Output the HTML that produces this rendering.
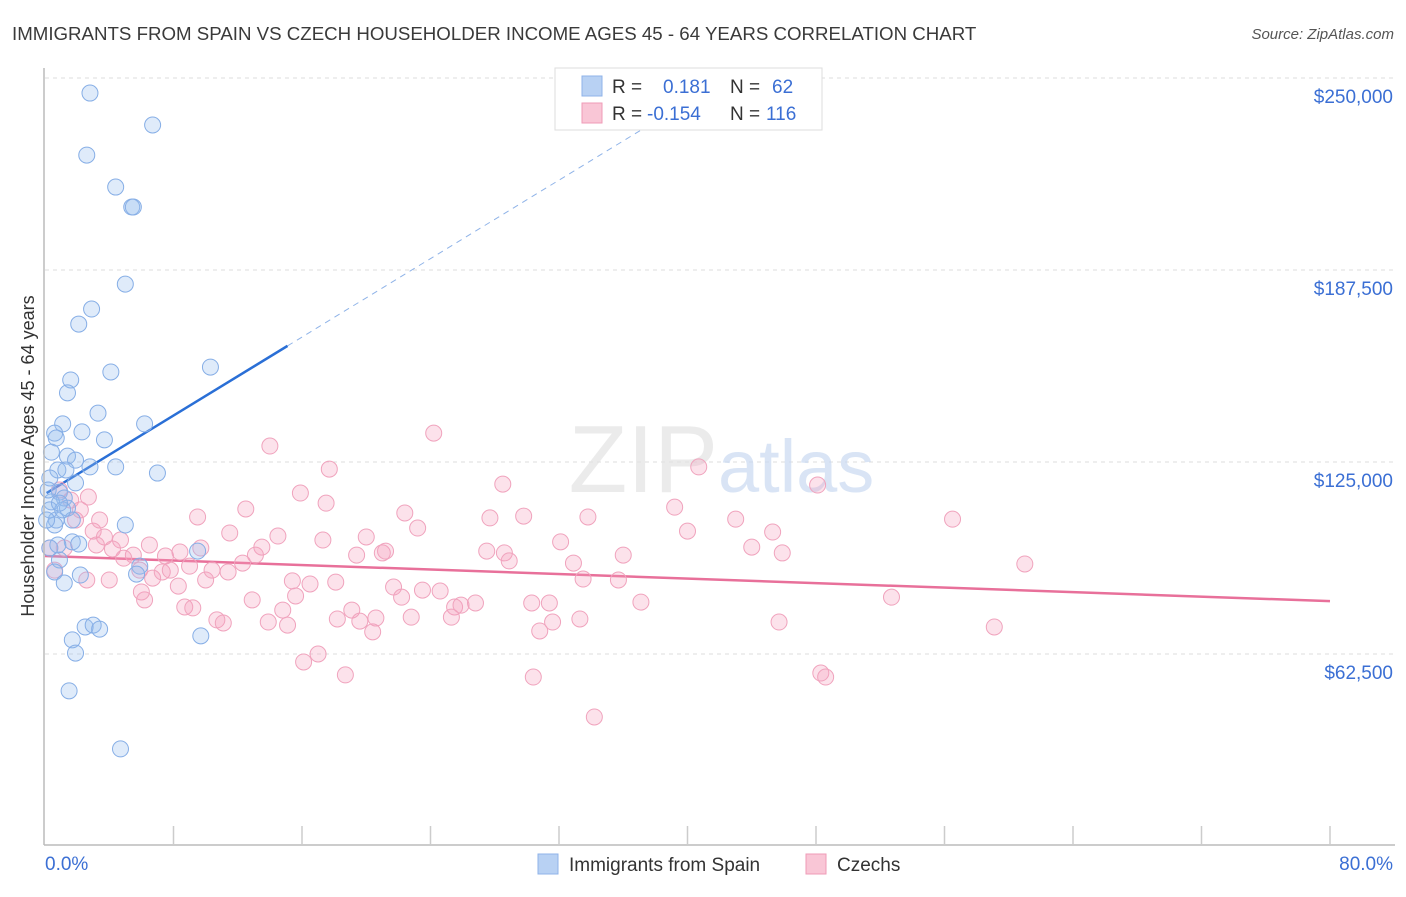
<!DOCTYPE html>
<html><head><meta charset="utf-8"><style>
body{margin:0;background:#fff;font-family:"Liberation Sans",sans-serif;}
svg text{font-family:"Liberation Sans",sans-serif;}
</style></head><body>
<svg id="chart" width="1406" height="892" viewBox="0 0 1406 892" xmlns="http://www.w3.org/2000/svg">
<text x="12" y="40" font-size="18.7" fill="#3a3a3a">IMMIGRANTS FROM SPAIN VS CZECH HOUSEHOLDER INCOME AGES 45 - 64 YEARS CORRELATION CHART</text>
<text x="1394" y="39" font-size="15" fill="#555" font-style="italic" text-anchor="end">Source: ZipAtlas.com</text>
<g id="grid"></g>
<text x="718" y="492" font-size="96" fill="#e3e3e3" text-anchor="end" font-family="Liberation Serif" opacity="0.7">ZIP</text>
<text x="718" y="492" font-size="74" fill="#c9daf2" opacity="0.7">atlas</text>
<text transform="translate(34,456) rotate(-90)" font-size="18" fill="#333" text-anchor="middle">Householder Income Ages 45 - 64 years</text>
<defs><clipPath id="plotclip"><rect x="44" y="68" width="1352" height="778"/></clipPath></defs>
<g id="trends" clip-path="url(#plotclip)"></g>
<g id="points"></g>
<g id="axes"></g>
<g>
<rect x="555" y="68" width="267" height="62" fill="#fff" stroke="#ddd"/>
<rect x="582" y="76" width="20" height="20" fill="#b8d1f3" stroke="#8fb3e8"/>
<rect x="582" y="103" width="20" height="20" fill="#f9c6d6" stroke="#ef9bb7"/>
<text x="612" y="93" font-size="19" fill="#333">R =</text>
<text x="663" y="93" font-size="19" fill="#3b6fd4">0.181</text>
<text x="730" y="93" font-size="19" fill="#333">N =</text>
<text x="772" y="93" font-size="19" fill="#3b6fd4">62</text>
<text x="612" y="120" font-size="19" fill="#333">R =</text>
<text x="647" y="120" font-size="19" fill="#3b6fd4">-0.154</text>
<text x="730" y="120" font-size="19" fill="#333">N =</text>
<text x="766" y="120" font-size="19" fill="#3b6fd4">116</text>
</g>
<g>
<rect x="538" y="854" width="20" height="20" fill="#b8d1f3" stroke="#8fb3e8"/>
<text x="569" y="871" font-size="19" fill="#333">Immigrants from Spain</text>
<rect x="806" y="854" width="20" height="20" fill="#f9c6d6" stroke="#ef9bb7"/>
<text x="837" y="871" font-size="19" fill="#333">Czechs</text>
</g>
</svg>
<script>
const blueX=[2.8,6.7,2.6,4.4,5.4,5.5,5.0,2.9,2.1,4.1,10.3,1.6,1.4,3.3,1.1,6.2,0.6,2.3,0.7,3.7,1.4,1.9,2.8,4.4,7.0,0.8,0.3,1.9,0.9,1.2,0.4,1.4,1.7,0.7,5.0,0.3,0.6,1.7,2.1,0.3,9.5,0.9,5.9,0.6,2.2,5.7,1.2,2.5,3.0,3.4,1.7,1.9,9.7,1.5,4.7,0.2,1.1,1.3,0.4,0.8,0.9,0.1];
const blueY=[245.1,234.7,224.9,214.5,208.0,208.0,182.9,174.8,169.9,154.3,155.9,151.7,147.5,140.9,137.4,137.4,134.4,134.8,132.8,132.2,126.9,125.6,123.4,123.4,121.4,122.4,119.8,118.2,115.2,113.3,112.0,110.0,106.1,106.1,104.5,109.4,104.5,99.0,98.3,97.0,96.0,93.1,91.1,89.2,88.2,88.5,85.6,71.3,71.9,70.6,67.1,62.8,68.4,50.5,31.6,115.9,109.4,122.4,128.2,98.0,111.6,106.1];
const pinkX=[14.0,24.2,17.7,40.7,28.5,48.1,15.9,17.5,22.4,27.7,29.8,33.8,39.2,43.0,56.5,12.5,9.5,2.7,0.9,1.6,2.2,3.0,3.7,4.7,5.5,6.5,7.5,8.4,9.7,11.5,13.5,14.5,17.3,20.0,23.2,27.5,28.6,28.9,32.1,32.9,36.0,40.0,44.0,45.3,45.9,61.0,3.2,4.0,4.9,5.9,6.7,7.3,8.3,9.0,10.0,10.4,11.4,12.3,13.1,15.4,16.5,18.1,19.4,21.0,21.2,21.7,22.2,23.5,24.6,25.5,25.9,26.8,30.3,31.4,33.5,35.7,37.1,52.7,6.2,8.7,9.2,10.7,11.1,12.9,13.9,14.8,15.1,15.6,18.2,19.1,19.6,20.4,20.6,22.8,25.3,30.8,31.6,33.3,45.7,59.1,16.1,17.0,18.7,30.4,48.3,48.6,34.2,4.2,7.8,1.9,2.6,6.0,0.6,3.4,1.2,0.3];
const pinkY=[130.2,134.4,122.7,123.4,117.8,117.5,114.9,111.6,108.4,106.8,107.4,107.1,110.3,106.4,106.4,109.7,107.1,113.6,115.9,112.6,109.4,102.5,100.6,99.6,94.7,98.0,94.4,95.7,97.0,101.9,97.3,100.9,99.6,100.6,103.5,96.0,95.4,92.8,99.0,92.1,94.7,102.5,97.3,102.2,95.4,91.8,98.0,86.6,93.7,89.8,87.2,89.2,84.6,91.1,86.6,89.8,89.2,92.1,94.7,86.3,85.3,85.9,94.7,95.4,96.0,84.3,81.0,83.3,83.0,77.8,78.4,79.1,79.1,79.1,86.9,86.6,79.4,81.0,80.1,77.8,77.5,73.6,72.6,80.1,72.9,76.8,71.9,81.4,73.9,76.8,73.2,69.7,74.2,74.5,74.5,70.0,72.9,73.9,72.9,71.3,59.9,62.5,55.7,55.0,56.3,55.0,42.0,96.7,89.8,106.1,86.6,82.7,89.8,106.1,97.0,97.0];
const blueTrend=[[0.1,114.9],[15.1,162.8],[80,370.0]];
const pinkTrend=[[0,94.4],[80,79.7]];
const yTicks=[62.5,125,187.5,250];
const yTickLabels=["$62,500","$125,000","$187,500","$250,000"];
const NS="http://www.w3.org/2000/svg";
const sx=v=>45+v/80*1285;
const sy=v=>846-v/62.5*192;
function mk(tag,attrs,parent){const e=document.createElementNS(NS,tag);for(const k in attrs)e.setAttribute(k,attrs[k]);parent.appendChild(e);return e;}
const grid=document.getElementById('grid');
yTicks.forEach((t,i)=>{
  const l=mk('line',{x1:45,x2:1395,y1:sy(t),y2:sy(t),stroke:'#ddd','stroke-dasharray':'4,4'},grid);
  
  
  const tx=mk('text',{x:1393,y:sy(t)+25,'font-size':19,fill:'#3b6fd4','text-anchor':'end'},grid);
  tx.textContent=yTickLabels[i];
  
  
});
const axes=document.getElementById('axes');
const ax=mk('line',{x1:44,x2:1395,y1:845,y2:845,stroke:'#bbb','stroke-width':1.5},axes);


const ay=mk('line',{x1:44,x2:44,y1:68,y2:845,stroke:'#bbb','stroke-width':1.5},axes);


for(let k=1;k<=10;k++){const x=45+k*128.5;const t=mk('line',{x1:x,x2:x,y1:826,y2:845,stroke:'#ccc','stroke-width':1.5},axes);

}
const x0=mk('text',{x:45,y:870,'font-size':19,fill:'#3b6fd4'},axes);x0.textContent='0.0%';


const x1=mk('text',{x:1393,y:870,'font-size':19,fill:'#3b6fd4','text-anchor':'end'},axes);x1.textContent='80.0%';


const pts=document.getElementById('points');
pinkX.forEach((x,i)=>{const c=mk('circle',{cx:sx(x),cy:sy(pinkY[i]),r:8,fill:'rgba(244,160,190,0.3)',stroke:'#f0a3bd','stroke-width':1},pts);

});
blueX.forEach((x,i)=>{const c=mk('circle',{cx:sx(x),cy:sy(blueY[i]),r:8,fill:'rgba(150,190,240,0.3)',stroke:'#86aee6','stroke-width':1},pts);

});
const tr=document.getElementById('trends');
const b1=mk('line',{x1:sx(blueTrend[0][0]),y1:sy(blueTrend[0][1]),x2:sx(blueTrend[1][0]),y2:sy(blueTrend[1][1]),stroke:'#2a6fd6','stroke-width':2.5},tr);


const b2=mk('line',{x1:sx(blueTrend[1][0]),y1:sy(blueTrend[1][1]),x2:sx(blueTrend[2][0]),y2:sy(blueTrend[2][1]),stroke:'#8fb3e8','stroke-width':1,'stroke-dasharray':'6,5'},tr);


const p1=mk('line',{x1:sx(pinkTrend[0][0]),y1:sy(pinkTrend[0][1]),x2:sx(pinkTrend[1][0]),y2:sy(pinkTrend[1][1]),stroke:'#e8709a','stroke-width':2.5},tr);


</script>
</body></html>
